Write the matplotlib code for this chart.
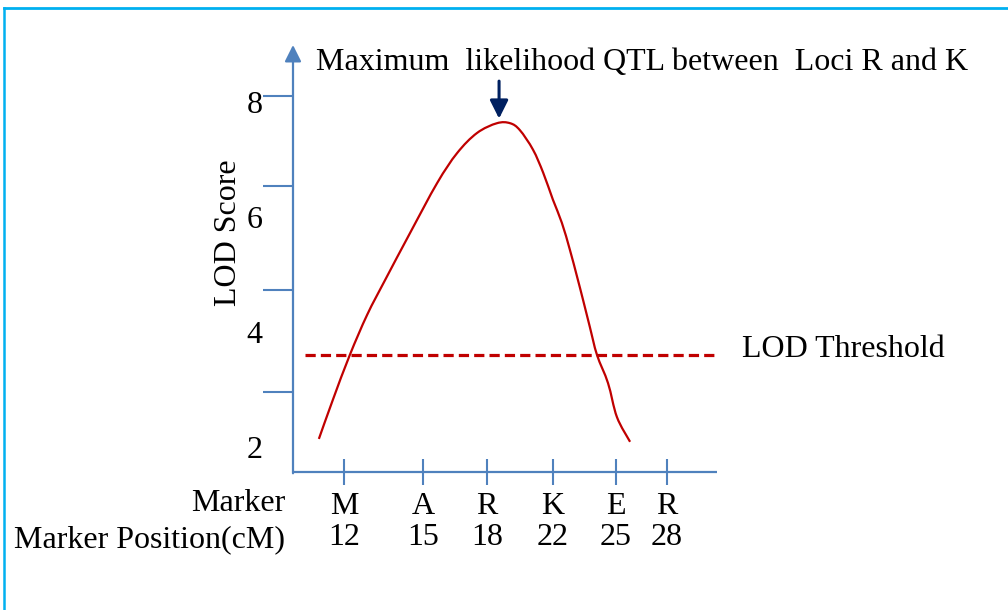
import numpy as np
import matplotlib
matplotlib.use("Agg")
import matplotlib.pyplot as plt
from matplotlib.lines import Line2D
from matplotlib.path import Path
from matplotlib.patches import PathPatch
from matplotlib.transforms import blended_transform_factory

plt.rcParams['font.family'] = ['Liberation Serif', 'DejaVu Serif']

# Markers along the chromosome and their map positions
markers = ['M', 'A', 'R', 'K', 'E', 'R']
marker_cm = [12, 15, 18, 22, 25, 28]
marker_pos = [1.20, 3.07, 4.58, 6.13, 7.62, 8.82]   # where each marker sits on the drawn axis

# LOD profile along the axis
scan_pos = [0.61, 0.94, 1.34, 1.75, 2.17, 2.76, 3.40, 3.87, 4.34, 4.81, 5.12,
            5.35, 5.66, 5.90, 6.13, 6.34, 6.53, 6.70, 6.84, 7.00, 7.17, 7.43,
            7.64, 7.95]
scan_lod = [2.14, 2.82, 3.60, 4.30, 4.90, 5.72, 6.59, 7.11, 7.46, 7.63, 7.63,
            7.51, 7.17, 6.77, 6.30, 5.90, 5.43, 4.96, 4.56, 4.09, 3.60, 3.11,
            2.52, 2.09]

lod_threshold = 3.6
threshold_span = [0.28, 10.0]

lod_labels = [8, 6, 4, 2]
lod_gridmarks = [8.10, 6.54, 4.73, 2.96]

axis_blue = '#4F81BD'
curve_red = '#C00000'
fs = 23


def smooth_path(x, y):
    # Catmull-Rom style bezier through every point (like a "smoothed line" chart)
    pts = np.column_stack([x, y])
    ext = np.vstack([pts[0], pts, pts[-1]])
    verts = [pts[0]]
    codes = [Path.MOVETO]
    for i in range(1, len(ext) - 2):
        p0, p1, p2, p3 = ext[i - 1], ext[i], ext[i + 1], ext[i + 2]
        verts += [p1 + (p2 - p0) / 6, p2 - (p3 - p1) / 6, p2]
        codes += [Path.CURVE4] * 3
    return Path(verts, codes)


fig = plt.figure(figsize=(10.08, 6.10), dpi=100)
ax = fig.add_axes([293 / 1008, 1 - 472 / 610, 424 / 1008, 427 / 610])
ax.set_xlim(0, 10)
ax.set_ylim(1.565, 8.99)

for s in ax.spines.values():
    s.set_visible(False)

# axes: plain x line, y line with an arrow head
ax.plot([0, 1], [0, 0], transform=ax.transAxes, color=axis_blue, lw=1.6,
        clip_on=False, solid_capstyle='butt')
ax.annotate('', xy=(0, 1), xytext=(0, -0.003), xycoords='axes fraction',
            arrowprops=dict(arrowstyle='-|>,head_length=1.0,head_width=0.5',
                            color=axis_blue, lw=1.6, shrinkA=0, shrinkB=0))

# y ticks: labels and tick marks are placed separately
ax.set_yticks(lod_labels, labels=[str(v) for v in lod_labels])
ax.tick_params(axis='y', which='major', length=0, pad=22, labelsize=fs)
ax.set_yticks(lod_gridmarks, minor=True)
ax.tick_params(axis='y', which='minor', length=21.5, width=1.5, color=axis_blue,
               direction='out')

# x ticks: marker name above its position in cM
ax.set_xticks(marker_pos, labels=[f"{m}\n{c}" for m, c in zip(markers, marker_cm)])
ax.tick_params(axis='x', length=19, width=1.5, color=axis_blue, direction='inout',
               pad=5, labelsize=fs)
for lbl in ax.get_xticklabels():
    lbl.set_linespacing(1.08)

tr = blended_transform_factory(ax.transAxes, ax.transAxes)
ax.text(-0.019, -0.073, 'Marker', transform=tr, ha='right', va='center', fontsize=fs)
ax.text(-0.019, -0.159, 'Marker Position(cM)', transform=tr, ha='right', va='center',
        fontsize=fs)
ax.text(-0.153, 0.56, 'LOD Score', transform=ax.transAxes, rotation=90,
        ha='center', va='center', fontsize=fs)

# LOD curve and threshold
ax.add_patch(PathPatch(smooth_path(scan_pos, scan_lod), facecolor='none',
                       edgecolor=curve_red, lw=1.6, clip_on=False))
ax.plot(threshold_span, [lod_threshold, lod_threshold], color=curve_red, lw=2.3,
        dashes=(3.2, 1.6), clip_on=False)
ax.annotate('LOD Threshold', xy=(threshold_span[1], lod_threshold),
            xytext=(18, 4), textcoords='offset points', ha='left', va='center',
            fontsize=fs, annotation_clip=False)

# arrow to the peak
peak = int(np.argmax(scan_lod))
ax.annotate('', xy=(scan_pos[peak] + 0.05, scan_lod[peak] + 0.08),
            xytext=(0, 27), textcoords='offset points',
            arrowprops=dict(arrowstyle='-|>,head_length=1.1,head_width=0.55',
                            color='#002060', lw=2.2, shrinkA=0, shrinkB=0))
ax.text(0.054, 0.958, 'Maximum  likelihood QTL between  Loci R and K',
        transform=ax.transAxes, ha='left', va='center', fontsize=fs)

# outer frame lines
frame_c = '#00B0F0'
fig.add_artist(Line2D([3.5 / 1008, 1], [1 - 8 / 610, 1 - 8 / 610],
                      transform=fig.transFigure, color=frame_c, lw=2.0))
fig.add_artist(Line2D([3.5 / 1008, 3.5 / 1008], [0, 1 - 8 / 610],
                      transform=fig.transFigure, color=frame_c, lw=1.8))

fig.savefig('out.png', dpi=100)
